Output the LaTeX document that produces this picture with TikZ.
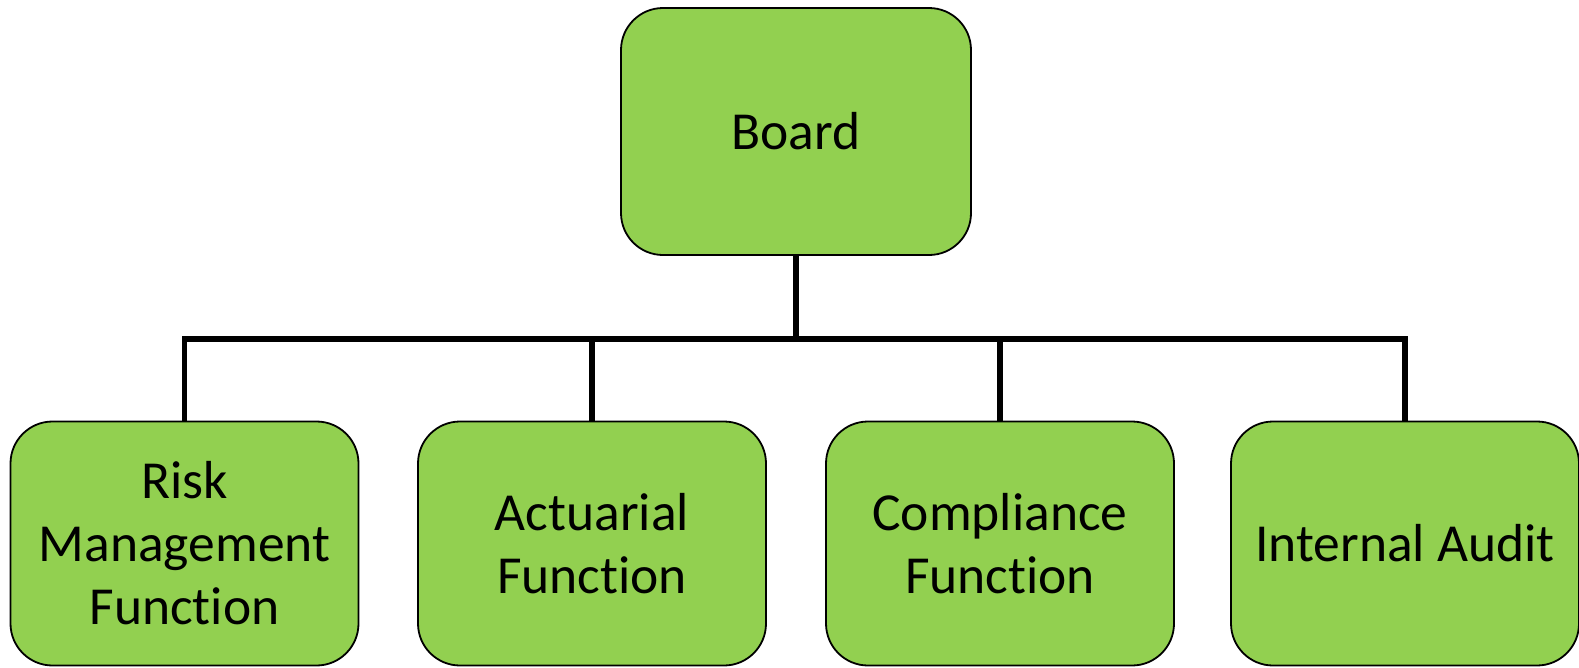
\documentclass[tikz,border=0pt]{standalone}
\usepackage{fontspec}
\setmainfont{Carlito}[Ligatures={NoCommon}]
\begin{document}
\begin{tikzpicture}[x=1pt,y=-1pt,
  orgbox/.style={draw=black, line width=1.8pt, fill=boxgreen, rounded corners=42pt,
    minimum width=348pt, minimum height=244pt, align=center, inner sep=0pt,
    font=\fontsize{53.5}{63}\selectfont},
  link/.style={line width=5.5pt}]
\definecolor{boxgreen}{HTML}{92D050}
\useasboundingbox (0,0) rectangle (1579,667);
\node[orgbox, minimum width=350pt, minimum height=247pt] (board) at (796,131.5) {Board};
\node[orgbox] (risk) at (184.5,543.5) {Risk\\Management\\Function};
\node[orgbox] (act) at (592,543.5) {Actuarial\\Function};
\node[orgbox] (comp) at (1000,543.5) {Compliance\\Function};
\node[orgbox] (audit) at (1405,543.5) {Internal Audit};
\coordinate (bar) at (796,339);
\draw[link] (board.south) -- (bar);
\draw[link] (risk.north) |- (bar) -| (audit.north);
\draw[link] (act.north) -- (act.north |- bar);
\draw[link] (comp.north) -- (comp.north |- bar);
\end{tikzpicture}
\end{document}
